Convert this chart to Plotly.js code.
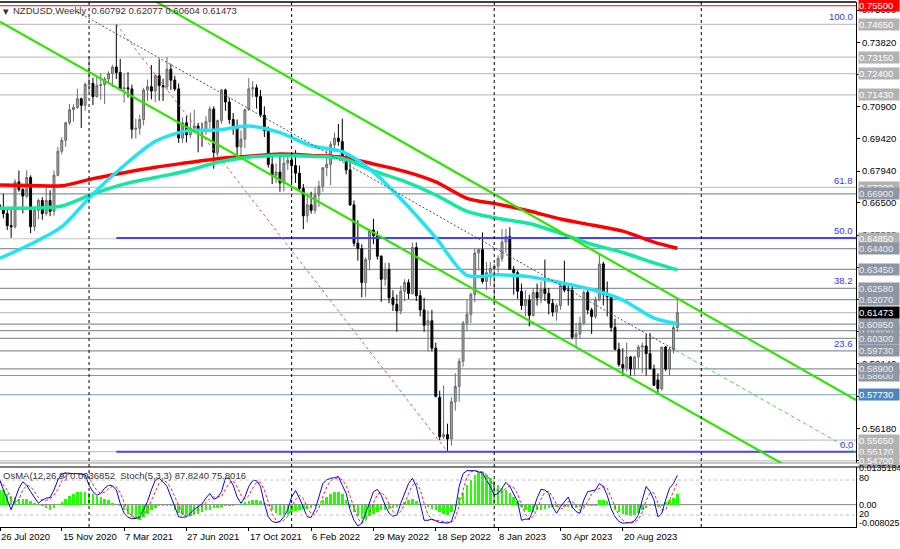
<!DOCTYPE html>
<html><head><meta charset="utf-8">
<script src="https://cdn.plot.ly/plotly-3.0.1.min.js"></script>
<style>html,body{margin:0;padding:0;background:#fff;}#chart{width:900px;height:549px;}</style>
</head><body><div id="chart"></div>
<script>
const firstWeek = '2020-07-26';
const opens = [
.6640,.6625,.6600,.6545,.6540,.6745,.6710,.6680,.6765,.6540,
.6615,.6660,.6600,.6660,.6610,.6775,.6885,.6935,.7015,.7075,
.7085,.7125,.7095,.7190,.7195,.7135,.7185,.7190,.7215,.7240,
.7270,.7245,.7170,.7175,.7170,.6985,.6990,.7030,.7165,.7180,
.7160,.7230,.7185,.7180,.7260,.7210,.7170,.6945,.7015,.6960,
.6990,.7000,.6980,.6975,.7020,.7078,.6880,.7025,.7165,.7110,
.7030,.6995,.6905,.6940,.7075,.7170,.7175,.7135,.7050,.6980,
.6825,.6775,.6790,.6740,.6830,.6845,.6820,.6785,.6715,.6590,
.6640,.6615,.6685,.6725,.6810,.6825,.6915,.6945,.6930,.6860,
.6800,.6640,.6465,.6440,.6285,.6390,.6525,.6500,.6405,.6300,
.6345,.6215,.6185,.6155,.6245,.6285,.6235,.6445,.6225,.6160,
.6090,.6110,.5985,.5760,.5580,.5590,.5570,.5740,.5810,.5925,
.6100,.6140,.6230,.6420,.6435,.6290,.6330,.6350,.6360,.6395,
.6470,.6495,.6345,.6330,.6245,.6180,.6205,.6135,.6240,.6215,
.6255,.6235,.6190,.6150,.6180,.6270,.6250,.6250,.6035,.6050,
.6100,.6240,.6160,.6130,.6205,.6370,.6230,.6220,.6080,.5980,
.5910,.5895,.5945,.5890,.5945,.5990,.5995,.5960,.5890,.5840,
.5800,.5990,.5890,.5980,.60792];
const highs = [
.6716,.6690,.6629,.6623,.6757,.6797,.6717,.6798,.6775,.6626,
.6668,.6675,.6720,.6707,.6797,.6905,.6949,.7020,.7101,.7100,
.7171,.7130,.7200,.7316,.7221,.7227,.7241,.7225,.7250,.7280,
.7465,.7307,.7239,.7246,.7189,.7034,.7052,.7175,.7213,.7279,
.7238,.7306,.7217,.7316,.7285,.7230,.7195,.7040,.7045,.7061,
.7075,.7015,.7016,.7045,.7090,.7090,.7030,.7170,.7171,.7130,
.7060,.7030,.6980,.7080,.7219,.7205,.7190,.7165,.7090,.6998,
.6870,.6830,.6860,.6860,.6860,.6870,.6890,.6820,.6735,.6680,
.6700,.6720,.6750,.6810,.6890,.6930,.6970,.7010,.7034,.6880,
.6860,.6660,.6570,.6460,.6400,.6530,.6576,.6520,.6410,.6375,
.6375,.6250,.6230,.6270,.6300,.6300,.6468,.6468,.6250,.6215,
.6157,.6160,.6010,.5790,.5815,.5640,.5760,.5870,.5940,.6110,
.6205,.6240,.6440,.6440,.6514,.6380,.6380,.6370,.6410,.6530,
.6530,.6538,.6360,.6340,.6280,.6250,.6230,.6260,.6280,.6290,
.6390,.6260,.6210,.6190,.6280,.6385,.6280,.6280,.6100,.6130,
.6250,.6250,.6170,.6220,.6412,.6380,.6290,.6230,.6120,.6010,
.5985,.6010,.5950,.5950,.6000,.6010,.6050,.6055,.5910,.5870,
.5990,.5995,.5990,.6090,.62077];
const lows = [
.6600,.6578,.6525,.6489,.6531,.6700,.6601,.6670,.6511,.6520,
.6574,.6572,.6590,.6588,.6590,.6770,.6871,.6905,.7005,.7020,
.7079,.6991,.7070,.7154,.7096,.7130,.7120,.7101,.7195,.7178,
.7215,.7161,.7107,.7130,.6943,.6943,.6960,.7003,.7115,.7122,
.7110,.7116,.7115,.7164,.7165,.7160,.6923,.6923,.6925,.6945,
.6970,.6880,.6905,.6960,.6990,.6805,.6860,.7010,.7070,.7010,
.6960,.6860,.6860,.6900,.7070,.7131,.7080,.7040,.6950,.6810,
.6735,.6740,.6700,.6701,.6800,.6740,.6740,.6700,.6529,.6560,
.6600,.6600,.6630,.6700,.6770,.6730,.6880,.6910,.6840,.6780,
.6635,.6450,.6385,.6217,.6220,.6340,.6460,.6390,.6197,.6270,
.6190,.6155,.6060,.6140,.6200,.6210,.6230,.6200,.6130,.6060,
.5970,.5970,.5760,.5565,.5570,.5512,.5540,.5700,.5740,.5900,
.6065,.6100,.6195,.6340,.6280,.6250,.6270,.6190,.6330,.6380,
.6420,.6345,.6230,.6210,.6160,.6130,.6084,.6130,.6180,.6190,
.6200,.6140,.6130,.6110,.6160,.6240,.6180,.6025,.5985,.6030,
.6090,.6140,.6050,.6120,.6200,.6180,.6130,.6060,.5975,.5900,
.5860,.5880,.5860,.5860,.5890,.5870,.5860,.5900,.5815,.5773,
.5790,.5880,.5860,.5960,.60604];
const closes = [
.6625,.6600,.6545,.6540,.6745,.6710,.6680,.6765,.6540,.6615,
.6660,.6600,.6660,.6610,.6775,.6885,.6935,.7015,.7075,.7085,
.7125,.7095,.7190,.7195,.7135,.7185,.7190,.7215,.7240,.7270,
.7245,.7170,.7175,.7170,.6985,.6990,.7030,.7165,.7180,.7160,
.7230,.7185,.7180,.7260,.7210,.7170,.6945,.7015,.6960,.6990,
.7000,.6980,.6975,.7020,.7078,.6880,.7025,.7165,.7110,.7030,
.6995,.6905,.6940,.7075,.7170,.7175,.7135,.7050,.6980,.6825,
.6775,.6790,.6740,.6830,.6845,.6820,.6785,.6715,.6590,.6640,
.6615,.6685,.6725,.6810,.6825,.6915,.6945,.6930,.6860,.6800,
.6640,.6465,.6440,.6285,.6390,.6525,.6500,.6405,.6300,.6345,
.6215,.6185,.6155,.6245,.6285,.6235,.6445,.6225,.6160,.6090,
.6110,.5985,.5765,.5580,.5590,.5570,.5740,.5810,.5925,.6100,
.6140,.6230,.6420,.6435,.6290,.6330,.6350,.6360,.6395,.6470,
.6495,.6345,.6330,.6245,.6180,.6205,.6135,.6240,.6215,.6255,
.6235,.6190,.6150,.6180,.6270,.6250,.6250,.6035,.6050,.6100,
.6240,.6160,.6130,.6205,.6370,.6230,.6220,.6080,.5980,.5910,
.5895,.5945,.5890,.5945,.5990,.5995,.5960,.5890,.5815,.5800,
.5990,.5890,.5980,.6079,.61473];

// moving averages (sample weeks)
const maDates = ['2020-07-26','2020-09-20','2020-11-15','2021-01-10','2021-03-07','2021-05-02','2021-06-27','2021-08-22','2021-10-17','2021-12-12','2022-02-06','2022-04-03','2022-05-29','2022-07-24','2022-09-18','2022-11-13','2023-01-08','2023-03-05','2023-04-30','2023-06-25','2023-08-20','2023-10-15','2023-11-26'];
const maRed = [0.6731,0.6729,0.6727,0.6760,0.6787,0.6812,0.6832,0.6851,0.6862,0.6872,0.6866,0.6858,0.6827,0.6793,0.6745,0.6670,0.6643,0.6612,0.6575,0.6548,0.6520,0.6470,0.6442];
const maTeal = [0.6625,0.6625,0.6635,0.6690,0.6735,0.6765,0.6795,0.6835,0.6858,0.6866,0.6862,0.6852,0.6795,0.6747,0.6685,0.6610,0.6578,0.6555,0.6510,0.6460,0.6422,0.6375,0.6343];
const maCyan = [0.6395,0.6460,0.6540,0.6690,0.6820,0.6930,0.6978,0.6982,0.7000,0.6970,0.6910,0.6883,0.6790,0.6650,0.6490,0.6318,0.6320,0.6312,0.6285,0.6253,0.6205,0.6122,0.6097];

// indicator values
const osma = [
0.0053,0.0051,0.0040,0.0031,0.0028,0.0022,0.0020,0.0019,0.0013,0.0007,
0.0003,-0.0006,-0.0012,-0.0018,-0.0012,0.0002,0.0010,0.0022,0.0031,0.0038,
0.0045,0.0047,0.0045,0.0041,0.0038,0.0031,0.0026,0.0021,0.0016,0.0007,
-0.0001,-0.0006,-0.0020,-0.0032,-0.0044,-0.0050,-0.0055,-0.0044,-0.0032,-0.0018,
-0.0012,-0.0006,-0.0005,-0.0004,-0.0006,-0.0018,-0.0030,-0.0037,-0.0042,-0.0042,
-0.0038,-0.0035,-0.0028,-0.0020,-0.0018,-0.0013,-0.0011,-0.0008,-0.0006,-0.0005,
-0.0004,-0.0001,0.0002,0.0008,0.0013,0.0017,0.0017,0.0013,0.0006,-0.0004,
-0.0018,-0.0030,-0.0037,-0.0040,-0.0036,-0.0028,-0.0022,-0.0018,-0.0017,-0.0016,
-0.0012,-0.0006,0.0003,0.0016,0.0028,0.0038,0.0044,0.0046,0.0040,0.0016,
-0.0008,-0.0028,-0.0042,-0.0050,-0.0050,-0.0042,-0.0032,-0.0025,-0.0020,-0.0018,
-0.0016,-0.0013,-0.0008,-0.0001,0.0009,0.0016,0.0019,0.0014,0.0004,-0.0001,
-0.0008,-0.0016,-0.0020,-0.0028,-0.0032,-0.0036,-0.0028,-0.0004,0.0026,0.0043,
0.0072,0.0087,0.0107,0.0118,0.0118,0.0107,0.0095,0.0084,0.0072,0.0060,
0.0051,0.0042,0.0027,0.0012,-0.0008,-0.0020,-0.0027,-0.0025,-0.0020,-0.0018,
-0.0016,-0.0012,-0.0010,-0.0007,-0.0006,-0.0007,-0.0010,-0.0012,-0.0011,-0.0008,
-0.0007,-0.0006,-0.0005,-0.0004,0.0016,0.0017,0.0013,0.0004,-0.0018,-0.0025,
-0.0033,-0.0038,-0.0040,-0.0037,-0.0030,-0.0018,-0.0011,-0.0006,-0.0006,-0.0010,
-0.0004,0.0008,0.0016,0.0025,0.0037];
const stochMain = [
81,63,46,29,47,66,77,71,60,49,40,46,49,50,63,80,90,92,91,91,
91,90,89,71,60,54,57,66,71,70,63,40,23,16,14,14,17,29,43,63,
80,83,77,69,51,34,17,16,17,23,30,34,39,49,57,47,50,60,83,83,
71,51,40,51,69,79,79,69,40,17,9,7,9,17,29,51,62,49,34,17,
16,29,51,74,80,83,84,86,71,57,29,11,1,6,23,40,60,64,54,37,
23,18,20,40,57,74,83,69,40,11,11,13,10,7,7,6,9,29,69,91,
96,96,96,94,92,80,69,54,57,66,76,69,57,43,11,13,13,29,49,64,
63,57,34,23,34,43,51,34,26,23,46,60,62,63,74,69,54,31,17,9,
6,6,7,10,20,46,69,60,46,17,23,46,66,74,87.82];
const stochSignal = [
80,72,63,46,41,47,63,71,69,60,50,45,45,48,54,64,78,87,91,91,
91,91,90,83,73,62,57,59,65,69,68,58,42,26,18,15,15,20,30,45,
62,75,80,76,66,51,34,22,17,19,23,29,34,41,48,51,51,52,64,75,
79,68,54,47,53,66,76,76,63,42,22,11,8,11,18,32,47,54,48,33,
22,21,32,51,68,79,82,84,80,71,52,32,14,6,10,23,41,55,59,52,
38,26,20,26,39,57,71,75,64,40,21,12,11,10,8,7,7,15,36,63,
85,94,96,95,94,89,80,68,60,59,66,70,67,56,37,22,12,18,30,47,
59,61,51,38,30,33,43,43,37,28,32,43,56,62,66,69,66,51,34,19,
11,7,6,8,12,25,45,58,58,41,29,29,45,62,75.80];

// drawn objects (anchor dates / prices)
const upperChannel = {d:['2021-04-28','2024-10-12'], v:[0.75762,0.57481]};
const lowerChannel = {d:['2020-07-27','2024-10-12'], v:[0.74771,0.52669]};
const midTrend = {d:['2020-12-14','2023-11-22'], v:[0.75214,0.59766]};
const midTrendExt = {d:['2023-11-22','2024-10-12'], v:[0.59766,0.55081]};
const fibDiag = {d:['2021-02-21','2022-10-09'], v:[0.7465,0.5512]};
const fibStart = '2021-02-21';
const fibNames = ['100.0','61.8','50.0','38.2','23.6','0.0'];
const fibVals = [0.7465,0.6719,0.64885,0.6258,0.5973,0.5512];
const yearSeps = ['2021-01-03','2022-01-02','2023-01-01','2024-01-08'];

const levelVals   = [0.7465,0.7315,0.7240,0.7143,0.6720,0.6690,0.6485,0.6440,0.6345,0.6258,0.6207,0.61473,0.6095,0.6065,0.6030,0.5973,0.5890,0.5860,0.5773,0.5565,0.5512,0.5470];
const levelKinds  = ['l','l','l','l','l','s','l','s','s','s','s','l','s','s','s','s','s','s','b','l','l','l'];
// price labels on the right, in drawing order
const labelVals  = [0.7550,0.7465,0.7315,0.7240,0.7143,0.6720,0.6690,0.6485,0.6440,0.6345,0.6258,0.6207,0.6065,0.6095,0.6030,0.61473,0.5973,0.5860,0.5890,0.5773,0.5565,0.5512,0.5470];
const labelKinds = ['r','g','g','g','g','g','s','g','s','s','s','s','s','s','s','k','s','s','s','b','g','g','g'];
const tickVals = [0.7530,0.7382,0.7236,0.7090,0.6942,0.6794,0.6650,0.6502,0.6354,0.6206,0.6062,0.5914,0.5766,0.5618,0.5470];
const tickShown = [1,1,0,1,1,1,1,1,0,0,0,1,0,1,0];
const xLabelDates = ['2020-07-27','2020-11-15','2021-03-07','2021-06-27','2021-10-17','2022-02-06','2022-05-29','2022-09-18','2023-01-08','2023-04-30','2023-08-20'];
const xLabelText = ['26 Jul 2020','15 Nov 2020','7 Mar 2021','27 Jun 2021','17 Oct 2021','6 Feb 2022','29 May 2022','18 Sep 2022','8 Jan 2023','30 Apr 2023','20 Aug 2023'];

function weekDates(start, n){
  const out=[]; const d0=new Date(start+'T00:00:00Z');
  for(let i=0;i<n;i++){ out.push(new Date(d0.getTime()+i*7*86400000).toISOString().slice(0,10)); }
  return out;
}
const weeks = weekDates(firstWeek, closes.length);

const FONT = 'Liberation Sans, Arial, sans-serif';
const traces = [];
traces.push({type:'candlestick', x:weeks, open:opens, high:highs, low:lows, close:closes, xaxis:'x', yaxis:'y',
  increasing:{line:{color:'#6a6a6a',width:1}, fillcolor:'#a6a6a6'},
  decreasing:{line:{color:'#000000',width:1}, fillcolor:'#000000'}, showlegend:false, hoverinfo:'skip'});
function line(d,v,color,width,dash,shape){
  traces.push({type:'scatter',mode:'lines',x:d,y:v,xaxis:'x',yaxis:'y',
    line:{color:color,width:width,dash:dash||'solid',shape:shape||'linear',smoothing:0.8},showlegend:false,hoverinfo:'skip'});
}
line([fibStart,'2024-10-31'],[fibVals[2],fibVals[2]],'#4444ff',2);
line([fibStart,'2024-10-31'],[fibVals[5],fibVals[5]],'#4444ff',2);
line(fibDiag.d,fibDiag.v,'#ff5050',1,'3px,3px');
line(maDates,maRed,'#ff0000',3.5,'solid','spline');
line(maDates,maTeal,'#12e8a0',3.5,'solid','spline');
line(maDates,maCyan,'#20e4f4',3.5,'solid','spline');
line(midTrend.d,midTrend.v,'#505050',1,'2px,2px');
line(midTrendExt.d,midTrendExt.v,'#44e044',1,'4px,3px');
line(upperChannel.d,upperChannel.v,'#2ee600',2.2);
line(lowerChannel.d,lowerChannel.v,'#2ee600',2.2);

traces.push({type:'bar',x:weeks,y:osma,xaxis:'x2',yaxis:'y2',marker:{color:'#22ff00',line:{width:0}},
  width:4.4*86400000,showlegend:false,hoverinfo:'skip'});
traces.push({type:'scatter',mode:'lines',x:weeks,y:stochSignal,xaxis:'x2',yaxis:'y3',
  line:{color:'#ff2020',width:1,dash:'3px,2px'},showlegend:false,hoverinfo:'skip'});
traces.push({type:'scatter',mode:'lines',x:weeks,y:stochMain,xaxis:'x2',yaxis:'y3',
  line:{color:'#0000ff',width:1},showlegend:false,hoverinfo:'skip'});

const shapes = [];
const lineCol = {l:'#c4c4c4', s:'#8b95a3', b:'#8fb2d6'};
levelVals.forEach((v,i)=>shapes.push({type:'line',xref:'paper',x0:0,x1:1,yref:'y',y0:v,y1:v,layer:'below',
  line:{color:lineCol[levelKinds[i]],width:1.2}}));
shapes.push({type:'line',xref:'paper',x0:0,x1:1,yref:'y',y0:0.7550,y1:0.7550,line:{color:'#ff0000',width:1.2}});
yearSeps.forEach(d=>shapes.push({type:'line',xref:'x',x0:d,x1:d,yref:'paper',y0:0,y1:1,line:{color:'#000',width:1,dash:'3px,3px'}}));
shapes.push({type:'line',xref:'paper',x0:0,x1:1,yref:'paper',y0:1,y1:1,line:{color:'#000',width:1.5}});
shapes.push({type:'line',xref:'paper',x0:0,x1:1.0514,yref:'paper',y0:0.12190,y1:0.12190,line:{color:'#909090',width:1}});
shapes.push({type:'line',xref:'paper',x0:0,x1:1.0514,yref:'paper',y0:0.11429,y1:0.11429,line:{color:'#000',width:1}});
shapes.push({type:'line',xref:'paper',x0:0,x1:1,yref:'y3',y0:80,y1:80,line:{color:'#c0c0c0',width:1,dash:'3px,3px'}});
shapes.push({type:'line',xref:'paper',x0:0,x1:1,yref:'y3',y0:20,y1:20,line:{color:'#c0c0c0',width:1,dash:'3px,3px'}});
shapes.push({type:'line',xref:'paper',x0:0,x1:1,yref:'y2',y0:0,y1:0,layer:'below',line:{color:'#808080',width:1}});

const ann = [];
const boxBg = {r:'#ff0000', g:'#b2b2b2', s:'#8c96a4', b:'#4a86c0', k:'#000000'};
const boxFg = {r:'#ffffff', g:'#ffffff', s:'#eeeeee', b:'#ffffff', k:'#ffffff'};
labelVals.forEach((v,i)=>ann.push({xref:'paper',x:1,xanchor:'left',xshift:2,yref:'y',y:v,yanchor:'middle',
  text:v.toFixed(5),showarrow:false,bgcolor:boxBg[labelKinds[i]],width:40,height:11,align:'left',borderpad:0,
  font:{family:FONT,size:9.5,color:boxFg[labelKinds[i]]}}));
fibNames.forEach((t,i)=>ann.push({xref:'paper',x:1,xanchor:'right',xshift:-1,yref:'y',y:fibVals[i],yanchor:'bottom',yshift:0,
  text:t,showarrow:false,font:{family:FONT,size:9.5,color:'#3333ff'}}));
xLabelDates.forEach((d,i)=>ann.push({xref:'x2',x:d,xanchor:'left',xshift:-1,yref:'paper',y:0,yanchor:'top',yshift:-2,
  text:xLabelText[i],showarrow:false,font:{family:FONT,size:9.5,color:'#000'}}));
ann.push({xref:'paper',x:0,xanchor:'left',xshift:1,yref:'paper',y:1,yanchor:'top',yshift:-1,
  text:'▾',showarrow:false,font:{family:FONT,size:11,color:'#333'}});
ann.push({xref:'paper',x:0,xanchor:'left',xshift:11,yref:'paper',y:1,yanchor:'top',yshift:-1,
  text:'NZDUSD,Weekly  0.60792 0.62077 0.60604 0.61473',showarrow:false,font:{family:FONT,size:9.5,color:'#333'}});
ann.push({xref:'paper',x:0,xanchor:'left',xshift:1,yref:'paper',y:0.11429,yanchor:'top',yshift:-1,
  text:'OsMA(12,26,9) 0.0036852  Stoch(5,3,3) 87.8240 75.8016',showarrow:false,font:{family:FONT,size:9.5,color:'#333'}});
const indLabels = [['0.0135184','y2',0.0135184,-1],['80','y3',80,2],['0.00','y2',0,0],['20','y3',20,1],['-0.008025','y2',-0.008025,4]];
indLabels.forEach(l=>ann.push({xref:'paper',x:1,xanchor:'left',xshift:1,yref:l[1],y:l[2],yanchor:'middle',yshift:l[3],
  text:l[0],showarrow:false,font:{family:FONT,size:9,color:'#000'}}));

const layout = {
  width:900,height:549,margin:{l:0,r:44,t:2,b:22},paper_bgcolor:'#fff',plot_bgcolor:'#fff',
  font:{family:FONT,size:9.5,color:'#000'},showlegend:false,bargap:0,
  xaxis:{type:'date',domain:[0,1],anchor:'y',range:['2020-07-27','2024-10-12'],showticklabels:false,showgrid:false,zeroline:false,
    rangeslider:{visible:false},ticks:''},
  yaxis:{domain:[0.12190,1],anchor:'x',side:'right',range:[0.54602,0.75671],showgrid:false,zeroline:false,
    tickvals:tickVals,ticktext:tickVals.map((v,i)=>tickShown[i]?v.toFixed(5):''),ticks:'outside',ticklen:3,tickcolor:'#000',
    showline:true,linecolor:'#000',linewidth:1,tickfont:{family:FONT,size:9.5,color:'#000'}},
  xaxis2:{type:'date',domain:[0,1],anchor:'y2',matches:'x',range:['2020-07-27','2024-10-12'],showgrid:false,zeroline:false,
    showticklabels:false,tickvals:xLabelDates,ticks:'outside',ticklen:3,tickcolor:'#000',showline:true,linecolor:'#000',linewidth:1},
  yaxis2:{domain:[0,0.11429],anchor:'x2',side:'right',range:[-0.008025,0.0135184],showgrid:false,zeroline:false,
    showticklabels:false,ticks:'',showline:true,linecolor:'#000',linewidth:1},
  yaxis3:{overlaying:'y2',anchor:'x2',side:'right',range:[-0.5,102.3],visible:false,showgrid:false,zeroline:false},
  shapes:shapes,annotations:ann
};
Plotly.newPlot('chart',traces,layout,{staticPlot:true,displayModeBar:false});
</script></body></html>
